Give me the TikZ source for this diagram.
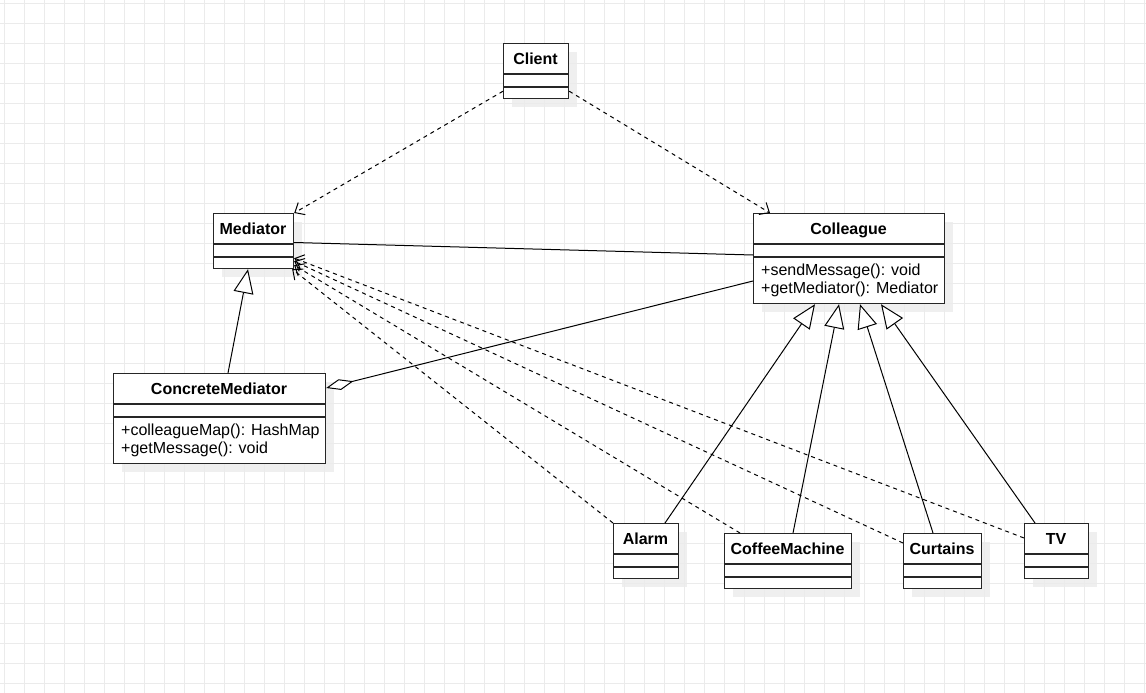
\documentclass[tikz,border=0pt]{standalone}
\usepackage{fontspec}
\setmainfont{Liberation Sans}
\usetikzlibrary{arrows.meta,shadows}

\begin{document}
\begin{tikzpicture}[
    x=1pt, y=-1pt,
    font=\fontsize{16}{18.5}\selectfont,
    gridline/.style={draw=black!8,line width=0.8pt},
    classbox/.style={rectangle,draw=black!85,line width=1.2pt,fill=white,
                     anchor=north west,inner sep=0pt,
                     drop shadow={shadow xshift=8pt,shadow yshift=-8pt,
                                  draw=none,fill=black!8,opacity=0.8}},
    classline/.style={draw=black!85,line width=1.2pt},
    classname/.style={anchor=base,inner sep=0pt,
                      font=\fontsize{16}{18.5}\selectfont\bfseries},
    classop/.style={anchor=base west,inner sep=0pt},
    dep/.style={-{Straight Barb[length=8pt,width=14pt]},
                dash pattern=on 4pt off 4pt,line width=1pt},
    gen/.style={-{Triangle[length=24pt,width=20pt,fill=white]},line width=1pt},
    assoc/.style={line width=1pt},
    aggr/.style={-{Diamond[length=28pt,width=11pt,fill=white]},line width=1pt}
  ]
    \useasboundingbox (0,0) rectangle (1146,693);
    \fill[white] (0,0) rectangle (1146,693);

    % background grid
    \foreach \gx in {4,24,...,1144}
      \draw[gridline] (\gx,0) -- (\gx,693);
    \foreach \gy in {3,23,...,683}
      \draw[gridline] (0,\gy) -- (1146,\gy);

    % classes with empty compartments
    \foreach \id/\txt/\x/\y/\w in {client/Client/503/43/65,
                                   mediator/Mediator/213/213/80,
                                   alarm/Alarm/613/523/65,
                                   coffee/CoffeeMachine/724/533/127,
                                   curtains/Curtains/903/533/78,
                                   tv/TV/1024/523/64}{
      \node[classbox,minimum width=\w,minimum height=55] (\id) at (\x,\y) {};
      \draw[classline] (\x,{\y+31}) -- ({\x+\w},{\y+31});
      \draw[classline] (\x,{\y+44}) -- ({\x+\w},{\y+44});
      \node[classname] (\id-name) at ({\x+\w/2},{\y+21}) {\txt};
    }

    % Colleague
    \node[classbox,minimum width=191,minimum height=90] (colleague) at (753,213) {};
    \draw[classline] (753,244) -- (944,244);
    \draw[classline] (753,257) -- (944,257);
    \node[classname] (colleague-name) at (848.5,234) {Colleague};
    \node[classop] (colleague-op1) at (761,275) {+sendMessage(): void};
    \node[classop] (colleague-op2) at (761,293.5) {+getMediator(): Mediator};

    % ConcreteMediator
    \node[classbox,minimum width=212,minimum height=90] (concrete) at (113,373) {};
    \draw[classline] (113,404) -- (325,404);
    \draw[classline] (113,417) -- (325,417);
    \node[classname] (concrete-name) at (219,394) {ConcreteMediator};
    \node[classop] (concrete-op1) at (121,435) {+colleagueMap(): HashMap};
    \node[classop] (concrete-op2) at (121,453) {+getMessage(): void};

    % Client uses Mediator and Colleague
    \draw[dep] ([yshift=8pt]client.south west) -- (mediator.north east);
    \draw[dep] ([yshift=8pt]client.south east) -- ([xshift=17pt]colleague.north west);

    \draw[assoc] ([yshift=-29.5pt]mediator.north east) -- ([yshift=-42pt]colleague.north west);
    \draw[aggr] ([yshift=-68pt]colleague.north west) -- ([yshift=-15pt]concrete.north east);

    % generalizations
    \draw[gen] ([xshift=115pt]concrete.north west) -- ([xshift=35pt]mediator.south west);
    \draw[gen] ([xshift=52pt]alarm.north west) -- ([xshift=62pt]colleague.south west);
    \draw[gen] ([xshift=69pt]coffee.north west) -- ([xshift=86pt]colleague.south west);
    \draw[gen] ([xshift=30pt]curtains.north west) -- ([xshift=107pt]colleague.south west);
    \draw[gen] ([xshift=11pt]tv.north west) -- ([xshift=128pt]colleague.south west);

    % concrete colleagues depend on Mediator
    \draw[dep] (alarm.north west) -- ([xshift=-2pt]mediator.south east);
    \draw[dep] ([xshift=16pt]coffee.north west) -- ([yshift=4pt]mediator.south east);
    \draw[dep] ([yshift=-10pt]curtains.north west) -- ([yshift=8pt]mediator.south east);
    \draw[dep] ([yshift=-15pt]tv.north west) -- ([yshift=11pt]mediator.south east);
  \end{tikzpicture}
\end{document}
